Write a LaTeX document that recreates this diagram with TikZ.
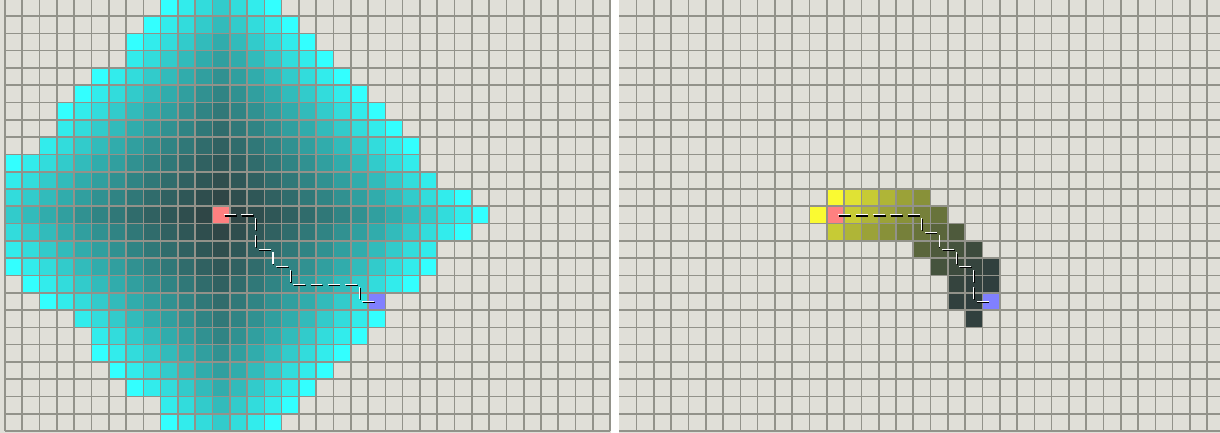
\documentclass[tikz,border=0pt]{standalone}
\definecolor{floor}{RGB}{224,223,216}
\definecolor{gridline}{RGB}{146,146,138}
\definecolor{deep}{RGB}{47,62,62}
\definecolor{frontier}{RGB}{51,255,255}
\definecolor{near}{RGB}{250,250,50}
\definecolor{startcell}{RGB}{255,128,128}
\definecolor{goalcell}{RGB}{128,128,255}
\begin{document}
\begin{tikzpicture}[x=0.45cm,y=-0.45cm,
  gridl/.style={gridline,line width=1.2pt},
  route/.style={line width=0.8pt,dash pattern=on 0.31cm off 0.14cm,dash phase=0.373cm}]
\useasboundingbox (0,0) rectangle (70.56,25.04);
\clip (0,0) rectangle (70.56,25.04);
\fill[white] (0,0) rectangle (70.56,25.04);
\fill[floor] (0,0) rectangle (35.34,25.04);
\fill[floor] (35.78,0) rectangle (70.56,25.04);
% left: breadth first
\begin{scope}[shift={(0.289,-0.069)}]
\foreach \r/\a/\b in {0/9/15,1/8/16,2/7/17,3/7/18,4/5/19,5/4/20,6/3/21,7/3/22,8/2/23,9/0/23,10/0/24,11/0/26,12/0/27,
  13/0/26,14/0/24,15/0/24,16/1/23,17/2/21,18/4/21,19/5/20,20/5/19,21/6/18,22/7/17,23/9/16,24/9/15}
  \foreach \c in {\a,...,\b} {
    \pgfmathsetmacro\u{(abs(\c-12)+abs(\r-12))/15}
    \pgfmathtruncatemacro\t{100*(0.6*\u+0.4*\u*\u)}
    \fill[frontier!\t!deep] (\c,\r) rectangle ++(1,1);}
\fill[startcell] (12,12) rectangle ++(1,1); \fill[goalcell] (21,17) rectangle ++(1,1);
\foreach \i in {0,...,35} \draw[gridl] (\i,0) -- (\i,25);
\foreach \j in {0,...,25} \draw[gridl] (0,\j) -- (35,\j);
\coordinate (lstart) at (12.5,12.5); \coordinate (lgoal) at (21.5,17.5);
\draw[route,black] ([shift={(0.04,0.06)}]lstart) -- ++(2,0) -- ++(0,2) -- ++(1,0) -- ++(0,1) -- ++(1,0) -- ++(0,1) -- ++(4,0) -- ++(0,1) -- ++(1,0);
\draw[route,white] (lstart) -- ++(2,0) -- ++(0,2) -- ++(1,0) -- ++(0,1) -- ++(1,0) -- ++(0,1) -- ++(4,0) -- ++(0,1) -- (lgoal);
\end{scope}
% right: best first toward the goal
\begin{scope}[shift={(35.82,-0.069)}]
\foreach \r/\a/\b in {11/12/17,12/11/18,13/12/19,14/17/20,15/18/21,16/19/21,17/19/21,18/20/20}
  \foreach \c in {\a,...,\b} {
    \pgfmathsetmacro\u{(abs(\c-21)+abs(\r-17))/15}
    \pgfmathtruncatemacro\t{100*\u*\u}
    \fill[near!\t!deep] (\c,\r) rectangle ++(1,1);}
\fill[startcell] (12,12) rectangle ++(1,1); \fill[goalcell] (21,17) rectangle ++(1,1);
\foreach \i in {1,...,35} \draw[gridl] (\i,0) -- (\i,25);
\foreach \j in {0,...,25} \draw[gridl] (0,\j) -- (35,\j);
\coordinate (rstart) at (12.5,12.5); \coordinate (rgoal) at (21.5,17.5);
\draw[route,black] ([shift={(0.04,0.06)}]rstart) -- ++(5,0) -- ++(0,1) -- ++(1,0) -- ++(0,1) -- ++(1,0) -- ++(0,1) -- ++(1,0) -- ++(0,2) -- ++(1,0);
\draw[route,white] (rstart) -- ++(5,0) -- ++(0,1) -- ++(1,0) -- ++(0,1) -- ++(1,0) -- ++(0,1) -- ++(1,0) -- ++(0,2) -- (rgoal);
\end{scope}
\end{tikzpicture}
\end{document}
